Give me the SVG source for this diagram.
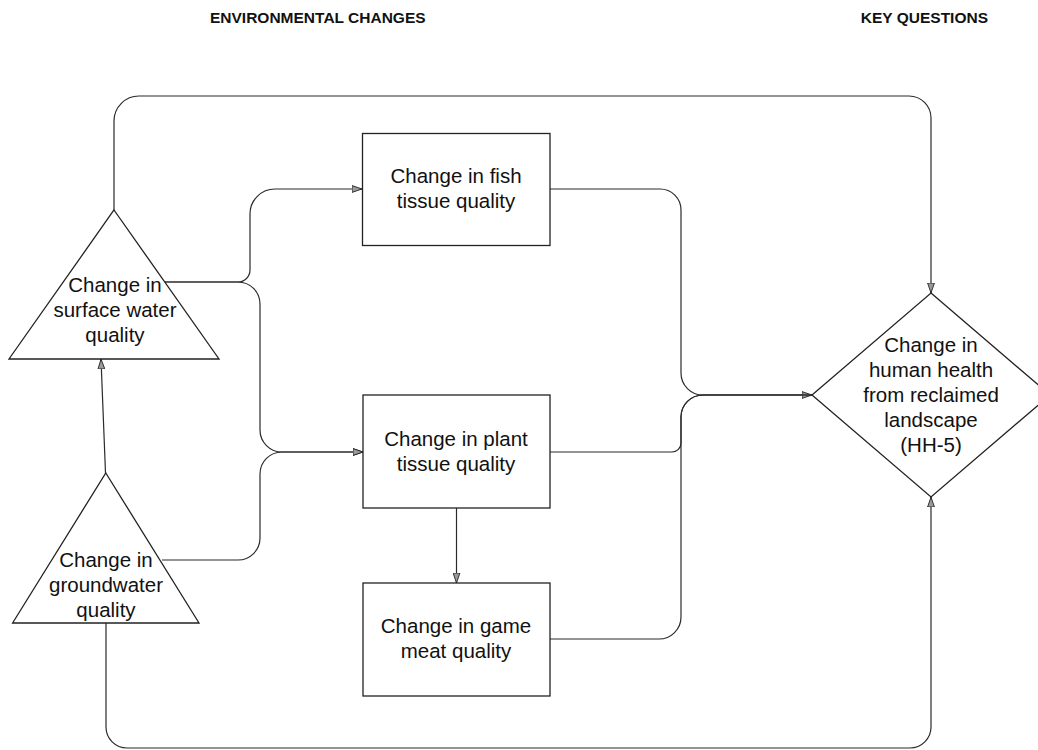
<svg xmlns="http://www.w3.org/2000/svg" width="1038" height="750" viewBox="0 0 1038 750">
  <style>
    .shape { fill: #ffffff; stroke: #222222; stroke-width: 1.3; }
    .link { fill: none; stroke: #2a2a2a; stroke-width: 1.2; }
    .label { font-family: "Liberation Sans", Arial, sans-serif; font-size: 20.5px; fill: #111111; text-anchor: middle; }
    .head { font-family: "Liberation Sans", Arial, sans-serif; font-size: 15.5px; font-weight: bold; fill: #111111; }
  </style>
  <defs>
    <marker id="arrow" viewBox="0 0 10 8" refX="10" refY="4" markerWidth="10" markerHeight="8" orient="auto" markerUnits="userSpaceOnUse">
      <path d="M0,0.6 L10,4 L0,7.4 Z" fill="#9a9a9a" stroke="#222222" stroke-width="0.9"/>
    </marker>
  </defs>

  <rect width="1038" height="750" fill="#ffffff"/>

  <!-- column headings -->
  <text class="head" x="210" y="23">ENVIRONMENTAL CHANGES</text>
  <text class="head" x="988" y="23" text-anchor="end">KEY QUESTIONS</text>

  <!-- connectors -->
  <g id="connectors">
    <!-- surface water to human health (over the top) -->
    <path class="link" d="M114,210 V121 A25,25 0 0 1 139,96 H909 A22,22 0 0 1 931,118 V293" marker-end="url(#arrow)"/>
    <!-- surface water to fish tissue -->
    <path class="link" d="M165,282 H238 A12,12 0 0 0 250,270 V214 A25,25 0 0 1 275,189 H362" marker-end="url(#arrow)"/>
    <!-- surface water to plant tissue -->
    <path class="link" d="M165,282 H238 A22,22 0 0 1 260,304 V430 A22,22 0 0 0 282,452 H363" marker-end="url(#arrow)"/>
    <!-- groundwater to plant tissue -->
    <path class="link" d="M162,560 H238 A22,22 0 0 0 260,538 V474 A22,22 0 0 1 282,452 H363" marker-end="url(#arrow)"/>
    <!-- groundwater to surface water -->
    <path class="link" d="M105.5,473 L101,359" marker-end="url(#arrow)"/>
    <!-- groundwater to human health (along the bottom) -->
    <path class="link" d="M106,623 V727 A21,21 0 0 0 127,748 H910 A21,21 0 0 0 931,727 V497" marker-end="url(#arrow)"/>
    <!-- fish tissue to human health -->
    <path class="link" d="M550,189 H660 A21,21 0 0 1 681,210 V373 A22,22 0 0 0 703,395 H812" marker-end="url(#arrow)"/>
    <!-- plant tissue to human health -->
    <path class="link" d="M550,452 H672 A9,9 0 0 0 681,443 V417 A22,22 0 0 1 703,395 H812"/>
    <!-- game meat to human health -->
    <path class="link" d="M550,639 H659 A22,22 0 0 0 681,617 V417 A22,22 0 0 1 703,395 H812"/>
    <!-- plant tissue to game meat -->
    <path class="link" d="M456.5,508 V583" marker-end="url(#arrow)"/>
  </g>

  <!-- surface water quality -->
  <g id="surface-water">
    <polygon class="shape" points="114,210 219,359 9,359"/>
    <text class="label" x="115" y="292">Change in</text>
    <text class="label" x="115" y="317">surface water</text>
    <text class="label" x="115" y="342">quality</text>
  </g>

  <!-- groundwater quality -->
  <g id="groundwater">
    <polygon class="shape" points="105.8,473 199,623 12.6,623"/>
    <text class="label" x="106" y="567">Change in</text>
    <text class="label" x="106" y="592">groundwater</text>
    <text class="label" x="106" y="617">quality</text>
  </g>

  <!-- fish tissue quality -->
  <g id="fish-tissue">
    <rect class="shape" x="362.5" y="133.5" width="187.5" height="112"/>
    <text class="label" x="456" y="183">Change in fish</text>
    <text class="label" x="456" y="208">tissue quality</text>
  </g>

  <!-- plant tissue quality -->
  <g id="plant-tissue">
    <rect class="shape" x="363" y="395" width="187" height="113"/>
    <text class="label" x="456" y="446">Change in plant</text>
    <text class="label" x="456" y="471">tissue quality</text>
  </g>

  <!-- game meat quality -->
  <g id="game-meat">
    <rect class="shape" x="363" y="583" width="187" height="113"/>
    <text class="label" x="456" y="633">Change in game</text>
    <text class="label" x="456" y="658">meat quality</text>
  </g>

  <!-- human health key question -->
  <g id="human-health">
    <polygon class="shape" points="931,293 1050,395 931,497 812,395"/>
    <text class="label" x="931" y="352">Change in</text>
    <text class="label" x="931" y="377">human health</text>
    <text class="label" x="931" y="402">from reclaimed</text>
    <text class="label" x="931" y="427">landscape</text>
    <text class="label" x="931" y="452">(HH-5)</text>
  </g>
</svg>
